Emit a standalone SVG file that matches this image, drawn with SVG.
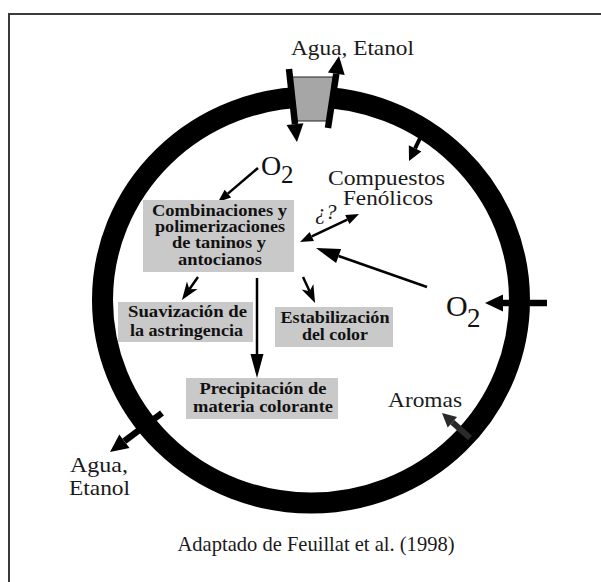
<svg xmlns="http://www.w3.org/2000/svg" width="601" height="582" viewBox="0 0 601 582">
  <style>
    .lbl { font-family: "Liberation Serif", "Times New Roman", serif; font-size: 21.5px; fill: #1a1a1a; }
    .cap { font-family: "Liberation Serif", "Times New Roman", serif; font-size: 21px; fill: #1a1a1a; }
    .bold { font-family: "Liberation Serif", "Times New Roman", serif; font-size: 16.5px; font-weight: bold; fill: #111; text-anchor: middle; }
    .box { fill: #c9c9c9; }
    .ox { font-family: "Liberation Serif", "Times New Roman", serif; fill: #111; }
    .thin { stroke: #000; stroke-width: 2.5; fill: none; }
    .thick { stroke: #000; stroke-width: 6.5; fill: none; }
  </style>
  <defs>
    <marker id="hk" markerUnits="userSpaceOnUse" orient="auto" refX="0" refY="8.5" markerWidth="18" markerHeight="17" overflow="visible">
      <path d="M0,0 L18,8.5 L0,17 z" fill="#000"/>
    </marker>
    <marker id="hm" markerUnits="userSpaceOnUse" orient="auto" refX="0" refY="7" markerWidth="14" markerHeight="14" overflow="visible">
      <path d="M0,0 L14,7 L0,14 z" fill="#000"/>
    </marker>
    <marker id="hg" markerUnits="userSpaceOnUse" orient="auto" refX="0" refY="7" markerWidth="14" markerHeight="14" overflow="visible">
      <path d="M0,0 L14,7 L0,14 z" fill="#2a2a2a"/>
    </marker>
    <marker id="ht" markerUnits="userSpaceOnUse" orient="auto-start-reverse" refX="0" refY="5" markerWidth="13" markerHeight="10" overflow="visible">
      <path d="M0,0 L13,5 L0,10 z" fill="#000"/>
    </marker>
    <marker id="hl" markerUnits="userSpaceOnUse" orient="auto" refX="0" refY="6.5" markerWidth="24" markerHeight="13" overflow="visible">
      <path d="M0,0 L24,6.5 L0,13 z" fill="#000"/>
    </marker>
    <marker id="hx" markerUnits="userSpaceOnUse" orient="auto" refX="0" refY="7.5" markerWidth="24" markerHeight="15" overflow="visible">
      <path d="M0,0 L24,7.5 L0,15 z" fill="#000"/>
    </marker>
    <marker id="hn" markerUnits="userSpaceOnUse" orient="auto" refX="5" refY="6.5" markerWidth="18" markerHeight="13" overflow="visible">
      <path d="M0,0 L18,6.5 L0,13 L5,6.5 z" fill="#000"/>
    </marker>
  </defs>

  <rect width="601" height="582" fill="#fff"/>

  <!-- frame -->
  <path d="M9,582 V14 H601" fill="none" stroke="#3a3a3a" stroke-width="2"/>

  <!-- barrel wall with bung -->
  <g id="barrel">
    <ellipse cx="311" cy="300" rx="208.5" ry="203" fill="none" stroke="#000" stroke-width="21"/>
    <polygon points="292,77 333,77 328,121 297,121" fill="#a6a6a6" stroke="#222" stroke-width="1"/>
  </g>

  <!-- connectors -->
  <g id="connectors">
    <path class="thick" d="M289,69 L295,124.1" marker-end="url(#hk)"/>
    <path class="thick" d="M328,128 L336.3,73.8" marker-end="url(#hk)"/>
    <path class="thick" d="M547,303 L503,303" marker-end="url(#hk)"/>
    <path class="thick" d="M162,413 L124.4,441.2" marker-end="url(#hk)"/>
    <path d="M470,438 L452.4,422.3" stroke="#2a2a2a" stroke-width="6" fill="none" marker-end="url(#hg)"/>
    <path d="M423,132 L415.1,148.4" stroke="#000" stroke-width="4" fill="none" marker-end="url(#hm)"/>
    <path class="thin" d="M258,168 L227.9,193.6" marker-end="url(#ht)"/>
    <path class="thin" d="M311.8,236.4 L347.3,219.6" marker-start="url(#ht)" marker-end="url(#ht)"/>
    <path class="thin" d="M427,287 L338.6,256" marker-end="url(#hx)"/>
    <path class="thin" d="M257,278 L257,354" marker-end="url(#hl)"/>
    <path class="thin" d="M198,277 L189.4,289.3" marker-end="url(#hn)"/>
    <path class="thin" d="M303,277 L309.6,291.2" marker-end="url(#hn)"/>
  </g>

  <!-- nodes -->
  <g id="combinaciones">
    <rect class="box" x="143" y="200" width="151" height="72"/>
    <text class="bold" x="219.5" y="216" textLength="135" lengthAdjust="spacingAndGlyphs">Combinaciones y</text>
    <text class="bold" x="220" y="232" textLength="130" lengthAdjust="spacingAndGlyphs">polimerizaciones</text>
    <text class="bold" x="219" y="248" textLength="94" lengthAdjust="spacingAndGlyphs">de taninos y</text>
    <text class="bold" x="220" y="265" textLength="84" lengthAdjust="spacingAndGlyphs">antocianos</text>
  </g>

  <g id="suavizacion">
    <rect class="box" x="118" y="302" width="135" height="40"/>
    <text class="bold" x="187.5" y="317" textLength="119" lengthAdjust="spacingAndGlyphs">Suavización de</text>
    <text class="bold" x="186.5" y="336" textLength="113" lengthAdjust="spacingAndGlyphs">la astringencia</text>
  </g>

  <g id="estabilizacion">
    <rect class="box" x="275" y="307" width="118" height="40"/>
    <text class="bold" x="335" y="323" textLength="109" lengthAdjust="spacingAndGlyphs">Estabilización</text>
    <text class="bold" x="335" y="340" textLength="66" lengthAdjust="spacingAndGlyphs">del color</text>
  </g>

  <g id="precipitacion">
    <rect class="box" x="186" y="378" width="152" height="41"/>
    <text class="bold" x="263" y="394" textLength="127" lengthAdjust="spacingAndGlyphs">Precipitación de</text>
    <text class="bold" x="263" y="412" textLength="140" lengthAdjust="spacingAndGlyphs">materia colorante</text>
  </g>

  <g id="o2-top">
    <text class="ox" x="261" y="175" font-size="28">O</text>
    <text class="ox" x="281" y="183" font-size="25">2</text>
  </g>

  <g id="o2-right">
    <text class="ox" x="446" y="316" font-size="30">O</text>
    <text class="ox" x="467" y="327" font-size="27">2</text>
  </g>

  <g id="agua-top">
    <text class="lbl" x="352.5" y="55" text-anchor="middle" textLength="123" lengthAdjust="spacingAndGlyphs">Agua, Etanol</text>
  </g>

  <g id="compuestos">
    <text class="lbl" x="386.5" y="185" text-anchor="middle" textLength="117" lengthAdjust="spacingAndGlyphs">Compuestos</text>
    <text class="lbl" x="388" y="205" text-anchor="middle" textLength="90" lengthAdjust="spacingAndGlyphs">Fenólicos</text>
  </g>

  <g id="duda">
    <text class="lbl" x="315" y="219" font-size="20" font-style="italic">¿?</text>
  </g>

  <g id="aromas">
    <text class="lbl" x="425" y="407" text-anchor="middle" textLength="74" lengthAdjust="spacingAndGlyphs">Aromas</text>
  </g>

  <g id="agua-bottom">
    <text class="lbl" x="99" y="472" text-anchor="middle" textLength="58" lengthAdjust="spacingAndGlyphs">Agua,</text>
    <text class="lbl" x="99.5" y="495" text-anchor="middle" textLength="61" lengthAdjust="spacingAndGlyphs">Etanol</text>
  </g>

  <g id="caption">
    <text class="cap" x="316" y="551" text-anchor="middle" textLength="277" lengthAdjust="spacingAndGlyphs">Adaptado de Feuillat et al. (1998)</text>
  </g>
</svg>
